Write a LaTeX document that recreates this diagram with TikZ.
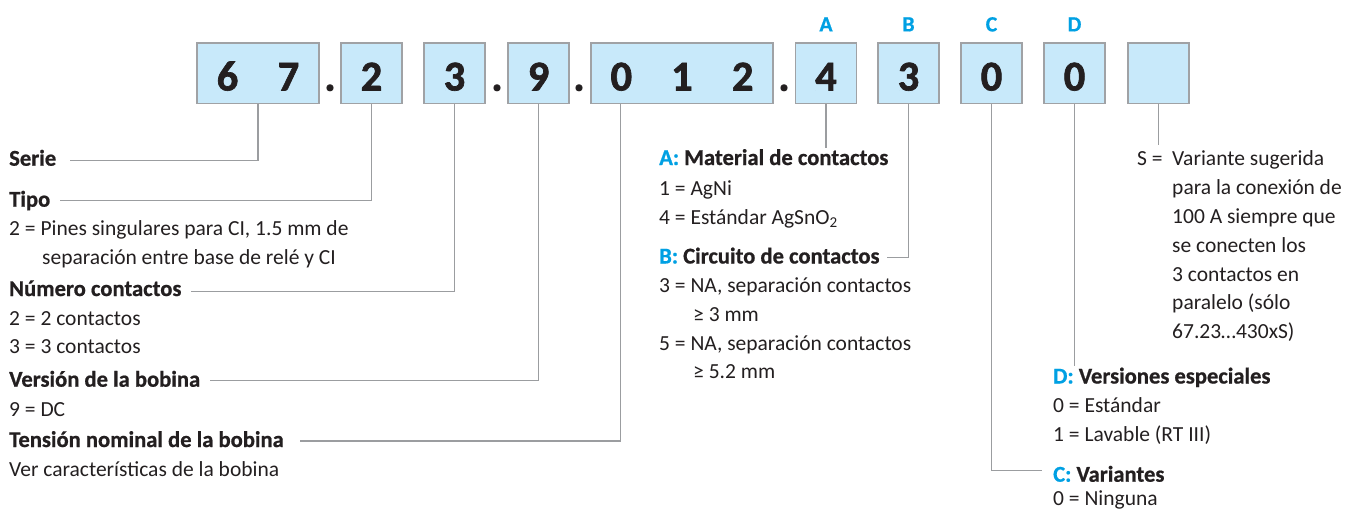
\documentclass[tikz,border=0pt]{standalone}
\usepackage{fontspec}
\setmainfont{Carlito}[BoldFeatures={FakeBold=0.8}]
\newfontfamily\digitfam{Carlito}[BoldFeatures={FakeBold=1.6}]
\usetikzlibrary{calc}
\definecolor{ink}{RGB}{35,31,32}
\definecolor{boxfill}{RGB}{200,233,250}
\definecolor{boxline}{RGB}{160,162,165}
\definecolor{connline}{RGB}{155,157,160}
\definecolor{accent}{RGB}{0,160,227}
\newcommand{\bodyfont}{\fontsize{21.5}{26}\selectfont}
\newcommand{\headfont}{\fontsize{22.6}{27}\selectfont\bfseries}
\newcommand{\digitfont}{\digitfam\fontsize{42.5}{50}\selectfont\bfseries}
\tikzset{
  txt/.style={anchor=base west, inner sep=0pt, font=\bodyfont, text=ink},
  hd/.style={anchor=base west, inner sep=0pt, font=\headfont, text=ink},
  codebox/.style={draw=boxline, line width=1.5pt, fill=boxfill, minimum height=60.5pt,
    minimum width=61pt, inner sep=0pt, text height=34.4pt, text depth=0pt,
    font=\digitfont, text=ink},
  sepdot/.style={anchor=base, inner sep=0pt, font=\digitfont, text=ink},
  lett/.style={anchor=base, inner sep=0pt, font=\fontsize{21.7}{26}\selectfont\bfseries, text=accent},
  conn/.style={draw=connline, line width=1.3pt}
}
\begin{document}
\begin{tikzpicture}[x=1pt,y=-1pt]
\useasboundingbox (0,0) rectangle (1348,511);

% code boxes
\node[codebox, minimum width=122pt] (b1) at (258,73.3) {\makebox[61pt]{6}\makebox[61pt]{7}};
\node[sepdot] (d1) at (330,90.7) {.};
\node[codebox] (b2) at (371.5,73.3) {2};
\node[codebox] (b3) at (454.5,73.3) {3};
\node[sepdot] (d2) at (497,90.7) {.};
\node[codebox] (b4) at (538.5,73.3) {9};
\node[sepdot] (d3) at (579,90.7) {.};
\node[codebox, minimum width=182pt] (b5) at (682,73.3) {\makebox[60.67pt]{0}\makebox[60.67pt]{1}\makebox[60.67pt]{2}};
\node[sepdot] (d4) at (784,90.7) {.};
\node[codebox] (b6) at (826,73.3) {4};
\node[codebox] (b7) at (908.5,73.3) {3};
\node[codebox] (b8) at (991.5,73.3) {0};
\node[codebox] (b9) at (1074.5,73.3) {0};
\node[codebox] (b10) at (1158.5,73.3) {};

% letters
\node[lett] (lA) at (826,31.4) {A};
\node[lett] (lB) at (908.5,31.4) {B};
\node[lett] (lC) at (991.5,31.4) {C};
\node[lett] (lD) at (1074.5,31.4) {D};

% left column
\node[hd] (serie) at (9,165.7) {Serie};
\node[hd] (tipo) at (9,206.7) {Tipo};
\node[txt] (tipo1) at (9,235) {2 = Pines singulares para CI, 1.5 mm de};
\node[txt] (tipo2) at (42,264) {separación entre base de relé y CI};
\node[hd] (num) at (9,296) {Número contactos};
\node[txt] (num1) at (9,325) {2 = 2 contactos};
\node[txt] (num2) at (9,353.5) {3 = 3 contactos};
\node[hd] (vers) at (9,386.7) {Versión de la bobina};
\node[txt] (vers1) at (9,416) {9 = DC};
\node[hd] (tens) at (9,447) {Tensión nominal de la bobina};
\node[txt] (tens1) at (9,476) {Ver características de la bobina};

% middle column
\node[hd] (aT) at (659,165) {\textcolor{accent}{A:} Material de contactos};
\node[txt] (a1) at (659,195) {1 = AgNi};
\node[txt] (a2) at (659,224) {4 = Estándar AgSnO\textsubscript{2}};
\node[hd] (bT) at (659,263.5) {\textcolor{accent}{B:} Circuito de contactos};
\node[txt] (b1t) at (659,292.7) {3 = NA, separación contactos};
\node[txt] (b2t) at (693,321) {≥ 3 mm};
\node[txt] (b3t) at (659,350) {5 = NA, separación contactos};
\node[txt] (b4t) at (693,378) {≥ 5.2 mm};

% right column
\node[txt] (sEq) at (1137,165) {S =};
\node[txt] (s1) at (1172,165) {Variante sugerida};
\node[txt] (s2) at (1172,194) {para la conexión de};
\node[txt] (s3) at (1172,223.3) {100 A siempre que};
\node[txt] (s4) at (1172,252.3) {se conecten los};
\node[txt] (s5) at (1172,281) {3 contactos en};
\node[txt] (s6) at (1172,309.7) {paralelo (sólo};
\node[txt] (s7) at (1172,338.5) {67.23…430xS)};

\node[hd] (dT) at (1053,383.5) {\textcolor{accent}{D:} Versiones especiales};
\node[txt] (d1t) at (1053,412.3) {0 = Estándar};
\node[txt] (d2t) at (1053,441) {1 = Lavable (RT III)};
\node[hd] (cT) at (1053,481.7) {\textcolor{accent}{C:} Variantes};
\node[txt] (c1t) at (1053,505.5) {0 = Ninguna};

% connectors
\coordinate (c5) at ($(b5.south west)!0.16667!(b5.south east)$);
\coordinate (aEnd) at (826,148);
\coordinate (sEnd) at (1158.5,145);
\coordinate (dEnd) at (1074.5,366);
\draw[conn] (b1.south) |- ([xshift=14pt,yshift=5pt]serie.base east);
\draw[conn] (b2.south) |- ([xshift=10pt,yshift=6pt]tipo.base east);
\draw[conn] (b3.south) |- ([xshift=9pt,yshift=4.5pt]num.base east);
\draw[conn] (b4.south) |- ([xshift=10pt,yshift=6pt]vers.base east);
\draw[conn] (c5) |- ([xshift=16pt,yshift=6pt]tens.base east);
\draw[conn] (b6.south) -- (aEnd);
\draw[conn] (b7.south) |- ([xshift=7pt,yshift=6pt]bT.base east);
\draw[conn] (b8.south) |- ([xshift=-11pt,yshift=11pt]cT.base west);
\draw[conn] (b9.south) -- (dEnd);
\draw[conn] (b10.south) -- (sEnd);
\end{tikzpicture}
\end{document}
